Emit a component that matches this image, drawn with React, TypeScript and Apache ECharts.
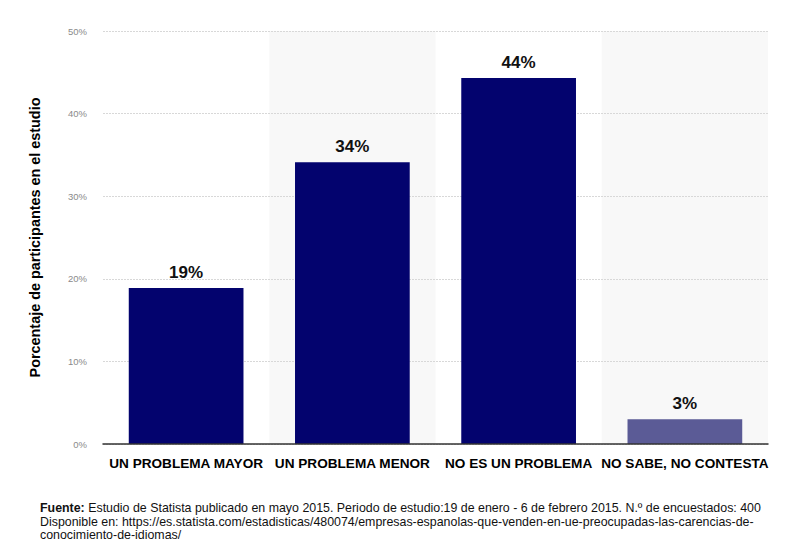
import React, { useEffect, useRef } from "react";
import * as echarts from "echarts";

const categories = ["UN PROBLEMA MAYOR", "UN PROBLEMA MENOR", "NO ES UN PROBLEMA", "NO SABE, NO CONTESTA"];
const values = [18.9, 34.1, 44.3, 3.0];
const barColors = ["#03036e", "#03036e", "#03036e", "#5b5b96"];
const yTicks = [0, 10, 20, 30, 40, 50];
const yAxisTitle = "Porcentaje de participantes en el estudio";
const footerLine1Bold = "Fuente:";
const footerLine1 = " Estudio de Statista publicado en mayo 2015. Periodo de estudio:19 de enero - 6 de febrero 2015. N.º de encuestados: 400";
const footerLine2 = "Disponible en: https://es.statista.com/estadisticas/480074/empresas-espanolas-que-venden-en-ue-preocupadas-las-carencias-de-";
const footerLine3 = "conocimiento-de-idiomas/";

export default function App() {
  const ref = useRef<HTMLDivElement>(null);
  useEffect(() => {
    if (!ref.current) return;
    const chart = echarts.init(ref.current, undefined, { renderer: "svg" });
    const font = "Liberation Sans, Arial, Helvetica, sans-serif";
    const fs = 12.4;
    const lh = 13.5;
    chart.setOption({
      animation: false,
      backgroundColor: "#ffffff",
      textStyle: { fontFamily: font },
      grid: { left: 103, right: 17, top: 31, bottom: 101 },
      xAxis: [
        {
          type: "category",
          data: categories,
          position: "bottom",
          axisLine: { show: true, lineStyle: { color: "#333", width: 1.5 } },
          axisTick: { show: false },
          axisLabel: {
            color: "#000",
            fontWeight: "bold",
            fontSize: 13.6,
            margin: 12,
            interval: 0,
            fontFamily: font,
          },
          splitLine: { show: false },
          splitArea: { show: false },
          z: 5,
        },
        {
          type: "category",
          data: categories,
          position: "top",
          axisLine: { show: false },
          axisTick: { show: false },
          axisLabel: { show: false, interval: 0 },
          splitLine: { show: false },
          splitArea: { show: true, interval: 0, areaStyle: { color: ["rgba(255,255,255,0)", "#f8f8f8"] } },
          z: 0,
        },
      ],
      yAxis: {
        type: "value",
        min: yTicks[0],
        max: yTicks[yTicks.length - 1],
        interval: 10,
        name: yAxisTitle,
        nameLocation: "middle",
        nameGap: 61,
        nameRotate: 90,
        nameTextStyle: { color: "#000", fontWeight: "bold", fontSize: 14.4, fontFamily: font },
        axisLine: { show: false },
        axisTick: { show: false },
        axisLabel: {
          color: "#8a8a8a",
          fontSize: 9.5,
          margin: 16,
          formatter: (v: number) => `${v}%`,
        },
        splitLine: { show: true, lineStyle: { color: "#d8d8d8", type: [2, 1], width: 1 } },
        z: 1,
      },
      series: [
        {
          type: "bar",
          xAxisIndex: 0,
          barWidth: "69%",
          data: values.map((v, i) => ({ value: v, itemStyle: { color: barColors[i] } })),
          label: {
            show: true,
            position: "top",
            distance: 7,
            color: "#111",
            fontWeight: "bold",
            fontSize: 17,
            fontFamily: font,
            formatter: (p: any) => `${Math.round(p.value)}%`,
          },
          z: 3,
        },
      ],
      graphic: [
        {
          type: "text",
          left: 40,
          top: 502,
          style: {
            rich: {
              b: { fontWeight: "bold", fontSize: fs, lineHeight: lh, fill: "#111", fontFamily: font },
              n: { fontSize: fs, lineHeight: lh, fill: "#111", fontFamily: font },
            },
            text: `{b|${footerLine1Bold}}{n|${footerLine1}}\n{n|${footerLine2}}\n{n|${footerLine3}}`,
          },
        },
      ],
    });
    return () => chart.dispose();
  }, []);
  return <div ref={ref} style={{ width: 785, height: 545, position: "absolute", left: 0, top: 0 }} />;
}
